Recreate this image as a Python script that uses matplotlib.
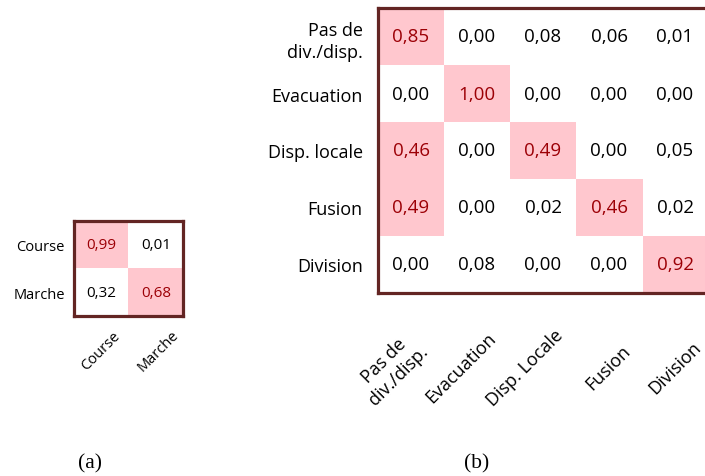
#!/usr/bin/env python3

import numpy as np
import matplotlib
matplotlib.use("Agg")
import matplotlib.pyplot as plt
from matplotlib.colors import ListedColormap

# matrice (a) : course / marche
labels_a = ['Course', 'Marche']
conf_a = np.array([
    [0.99, 0.01],
    [0.32, 0.68],
])

# matrice (b) : evenements de foule
rows_b = ['Pas de\ndiv./disp.', 'Evacuation', 'Disp. locale', 'Fusion', 'Division']
cols_b = ['Pas de\ndiv./disp.', 'Evacuation', 'Disp. Locale', 'Fusion', 'Division']
conf_b = np.array([
    [0.85, 0.00, 0.08, 0.06, 0.01],
    [0.00, 1.00, 0.00, 0.00, 0.00],
    [0.46, 0.00, 0.49, 0.00, 0.05],
    [0.49, 0.00, 0.02, 0.46, 0.02],
    [0.00, 0.08, 0.00, 0.00, 0.92],
])

seuil = 0.4  # mise en forme conditionnelle

PINK = '#FFC7CE'
DARK_RED = '#9C0006'
BORDER = '#632523'
FONT = 'Open Sans'

W, H = 705, 477


def px_axes(fig, left, top, right, bottom):
    return fig.add_axes([left / W, 1 - bottom / H, (right - left) / W, (bottom - top) / H])


def draw_matrix(ax, mat, row_labels, col_labels, fs_num, fs_lab, label_pad, xlab_dy, xlab_dx):
    n_r, n_c = mat.shape
    mask = (mat >= seuil).astype(int)
    ax.imshow(mask, cmap=ListedColormap(['white', PINK]), vmin=0, vmax=1,
              aspect='auto', interpolation='nearest')
    for i in range(n_r):
        for j in range(n_c):
            c = DARK_RED if mat[i, j] >= seuil else 'black'
            ax.text(j, i, f"{mat[i, j]:.2f}".replace('.', ','), ha='center', va='center',
                    color=c, fontsize=fs_num, family=FONT)

    ax.set_yticks(range(n_r))
    ax.set_yticklabels(row_labels, fontsize=fs_lab, family=FONT, linespacing=1.35)
    ax.tick_params(axis='y', length=0, pad=label_pad)
    ax.set_xticks([])

    # etiquettes en bas, tournees a 45 degres (decalage depuis le haut du cadre)
    for j, lab in enumerate(col_labels):
        ax.annotate(lab, xy=(j, 1), xycoords=('data', 'axes fraction'),
                    xytext=(xlab_dx[j], xlab_dy), textcoords='offset points',
                    rotation=45, rotation_mode='anchor', ha='center', va='center',
                    fontsize=fs_lab, family=FONT, linespacing=1.2, annotation_clip=False)

    for sp in ax.spines.values():
        sp.set_color(BORDER)
        sp.set_linewidth(2.3)


fig = plt.figure(figsize=(W / 100, H / 100), dpi=100)

# (a)
ax_a = px_axes(fig, 74, 222, 183, 317)
h_a = 317 - 222
draw_matrix(ax_a, conf_a, labels_a, labels_a, 11, 10.5, 6.5,
            -(h_a + 34) * 0.72, [0, 2])

# (b)
ax_b = px_axes(fig, 378, 9, 708, 294)
h_b = 294 - 9
draw_matrix(ax_b, conf_b, rows_b, cols_b, 13.5, 13, 11,
            -(h_b + 74) * 0.72, [v * 0.72 for v in [-20, -16, -18, -1, 0]])

fig.text(90 / W, 1 - 464 / H, '(a)', ha='center', va='center',
         fontsize=15.5, family='Liberation Serif')
fig.text(477 / W, 1 - 464 / H, '(b)', ha='center', va='center',
         fontsize=15.5, family='Liberation Serif')

fig.savefig('out.png', dpi=100)
